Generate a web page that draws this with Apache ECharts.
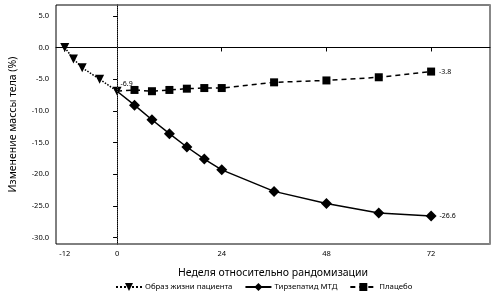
<!DOCTYPE html>
<html>
<head>
<meta charset="utf-8">
<script src="https://cdn.jsdelivr.net/npm/echarts@6/dist/echarts.min.js"></script>
<style>
  html, body { margin: 0; padding: 0; background: #fff; }
  #chart { width: 500px; height: 296px; }
</style>
</head>
<body>
<div id="chart"></div>
<script>
// weeks relative to randomization
var leadInWeeks = [-12, -10, -8, -4, 0];
var leadInValues = [0.0, -1.8, -3.2, -5.0, -6.9];

var treatWeeks = [0, 4, 8, 12, 16, 20, 24, 36, 48, 60, 72];
var tirzValues = [-6.9, -9.1, -11.4, -13.6, -15.7, -17.6, -19.3, -22.7, -24.6, -26.1, -26.6];
var placeboValues = [-6.9, -6.7, -6.9, -6.7, -6.5, -6.4, -6.4, -5.5, -5.2, -4.7, -3.8];

var xTicks = [-12, 0, 24, 48, 72];
var yTicks = [-30, -25, -20, -15, -10, -5, 0, 5];

var names = ['Образ жизни пациента', 'Тирзепатид МТД', 'Плацебо'];

// the treatment lines start from the week-0 point without a marker
function pairs(xs, ys, hideFirst) {
  return xs.map(function (x, i) {
    if (hideFirst && i === 0) return { value: [x, ys[i]], symbol: 'none' };
    return [x, ys[i]];
  });
}

var font = 'Noto Sans';
var chart = echarts.init(document.getElementById('chart'));

function lastLabel(len) {
  return function (p) {
    return p.dataIndex === len - 1 ? p.value[1].toFixed(1) : '';
  };
}

var option = {
  animation: false,
  textStyle: { fontFamily: font },
  grid: {
    left: 53, right: 10, top: 5, bottom: 52,
    show: true, borderColor: '#000', borderWidth: 1
  },
  xAxis: {
    type: 'value',
    min: -14, max: 85.5,
    name: 'Неделя относительно рандомизации',
    nameLocation: 'middle',
    nameGap: 24,
    nameTextStyle: { fontSize: 10.5, color: '#000' },
    splitLine: { show: false },
    axisLine: { lineStyle: { color: '#000' } },
    axisTick: { customValues: xTicks, length: 4, lineStyle: { color: '#000' } },
    axisLabel: { customValues: xTicks, fontSize: 7.5, color: '#000', margin: 6 }
  },
  yAxis: [{
    type: 'value',
    min: -31, max: 6.7,
    name: 'Изменение массы тела (%)',
    nameLocation: 'middle',
    nameGap: 37,
    nameTextStyle: { fontSize: 10.5, color: '#000' },
    splitLine: { show: false },
    axisLine: { show: true, lineStyle: { color: '#000' } },
    axisTick: { customValues: yTicks, length: 4, lineStyle: { color: '#000' } },
    axisLabel: {
      customValues: yTicks, fontSize: 7.5, color: '#000', margin: 7,
      formatter: function (v) { return v.toFixed(1); }
    }
  }, {
    type: 'value',
    position: 'right',
    min: -31, max: 6.7,
    splitLine: { show: false },
    axisLine: { show: true, lineStyle: { color: '#888', width: 2 } },
    axisTick: { show: false },
    axisLabel: { show: false }
  }],
  legend: {
    left: 110, top: 278,
    itemWidth: 26, itemHeight: 10, itemGap: 12,
    textStyle: { fontSize: 7.8, color: '#000', padding: [0, 0, 0, -2] },
    data: names
  },
  series: [{
    name: names[0],
    type: 'line',
    data: pairs(leadInWeeks, leadInValues, false),
    symbol: 'triangle',
    symbolRotate: 180,
    symbolSize: 9,
    itemStyle: { color: '#000' },
    lineStyle: { color: '#000', width: 1.5, type: 'dotted' },
    label: {
      show: true, position: 'right', offset: [-6, -7],
      fontSize: 7, color: '#000',
      formatter: lastLabel(leadInWeeks.length)
    },
    markLine: {
      silent: true,
      symbol: 'none',
      label: { show: false },
      lineStyle: { color: '#444', type: 'dotted', width: 1 },
      data: [{ xAxis: 0 }]
    },
    z: 3
  }, {
    name: names[1],
    type: 'line',
    data: pairs(treatWeeks, tirzValues, true),
    symbol: 'diamond',
    symbolSize: 11,
    itemStyle: { color: '#000' },
    lineStyle: { color: '#000', width: 1.5 },
    label: {
      show: true, position: 'right', distance: 3,
      fontSize: 7, color: '#000',
      formatter: lastLabel(treatWeeks.length)
    }
  }, {
    name: names[2],
    type: 'line',
    data: pairs(treatWeeks, placeboValues, true),
    symbol: 'rect',
    symbolSize: 8,
    itemStyle: { color: '#000' },
    lineStyle: { color: '#000', width: 1.5, type: [5, 4] },
    label: {
      show: true, position: 'right', distance: 4,
      fontSize: 7, color: '#000',
      formatter: lastLabel(treatWeeks.length)
    }
  }]
};

chart.setOption(option);
</script>
</body>
</html>
